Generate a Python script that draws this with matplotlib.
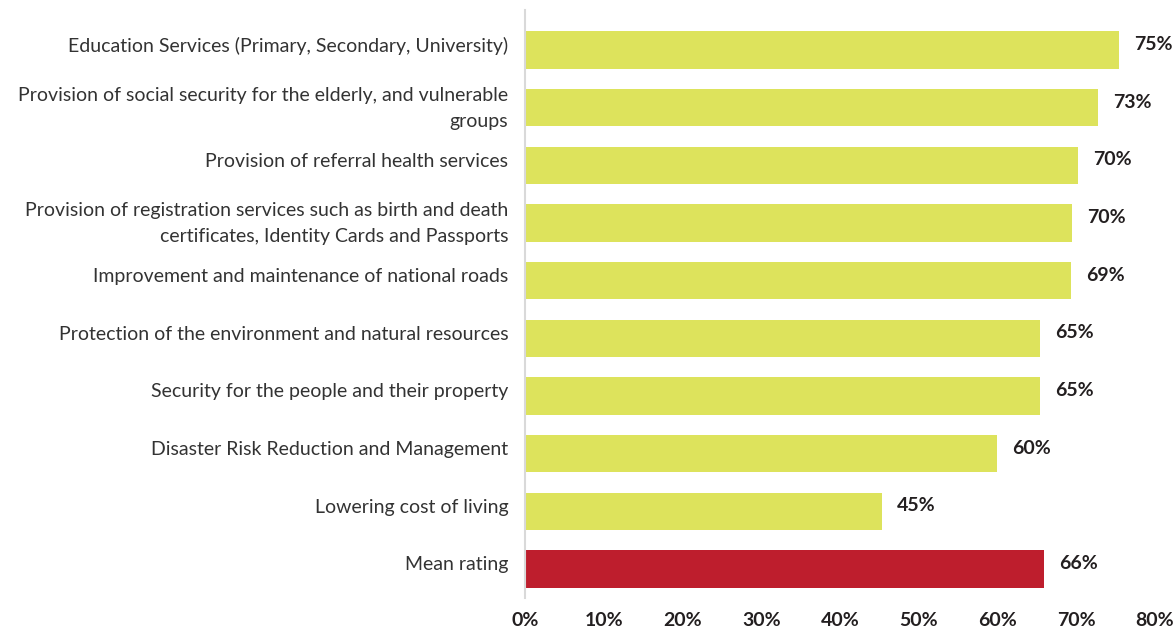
import matplotlib.pyplot as plt
import matplotlib.transforms as mtransforms
import numpy as np

plt.rcParams['font.family'] = ['Lato', 'DejaVu Sans']

categories = [
    "Education Services (Primary, Secondary, University)",
    "Provision of social security for the elderly, and vulnerable\ngroups",
    "Provision of referral health services",
    "Provision of registration services such as birth and death\ncertificates, Identity Cards and Passports",
    "Improvement and maintenance of national roads",
    "Protection of the environment and natural resources",
    "Security for the people and their property",
    "Disaster Risk Reduction and Management",
    "Lowering cost of living",
    "Mean rating",
]
values = [75.4, 72.7, 70.2, 69.5, 69.3, 65.4, 65.4, 59.9, 45.3, 65.9]
value_labels = ["75%", "73%", "70%", "70%", "69%", "65%", "65%", "60%", "45%", "66%"]

yellow = "#dde35c"
red = "#be1e2d"
colors = [yellow] * 9 + [red]

fig = plt.figure(figsize=(11.75, 6.3), dpi=100)
ax = fig.add_axes([0.4468, 0.051, 0.5362, 0.933])

y = np.arange(len(categories))
ax.barh(y, values, height=0.65, color=colors)

for yi, v, lab in zip(y, values, value_labels):
    ax.annotate(lab, (v, yi), xytext=(11, 4), textcoords="offset points",
                ha="left", va="center", fontsize=14, fontweight="bold",
                color="#231f20")

ax.set_yticks(y)
ax.set_yticklabels(categories, fontsize=14, color="#333333", linespacing=1.65)
ax.set_ylim(9.5, -0.69)
ax.set_xlim(0, 80)
ax.set_xticks(np.arange(0, 81, 10))
ax.set_xticklabels([f"{t}%" for t in range(0, 81, 10)], fontsize=14,
                   fontweight="bold", color="#231f20")
ax.tick_params(axis="both", length=0)
ax.tick_params(axis="x", pad=10)
ax.tick_params(axis="y", pad=12)

# labels sit a little above the bar centres in the original
shift = mtransforms.ScaledTranslation(0, 4 / 72, fig.dpi_scale_trans)
for t in ax.get_yticklabels():
    t.set_transform(t.get_transform() + shift)

for s in ["top", "right", "bottom"]:
    ax.spines[s].set_visible(False)
ax.spines["left"].set_color("#d9d9d9")
ax.spines["left"].set_linewidth(1.5)

fig.savefig("out.png", dpi=100)
